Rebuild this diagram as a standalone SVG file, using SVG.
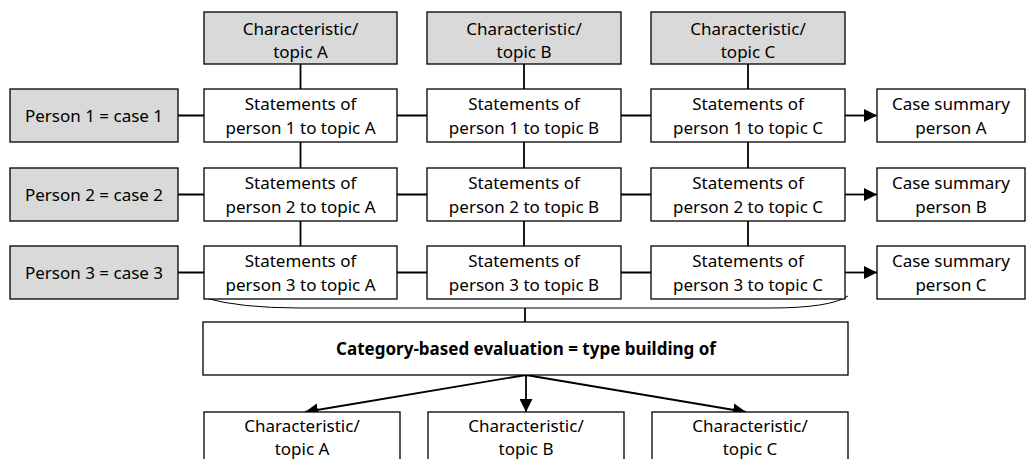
<svg xmlns="http://www.w3.org/2000/svg" width="1027" height="459" viewBox="0 0 1027 459">
  <style>
    .box { fill: #ffffff; stroke: #000000; stroke-width: 1.3; }
    .grey { fill: #d9d9d9; }
    .link { fill: none; stroke: #000000; stroke-width: 1.8; }
    .thin { fill: none; stroke: #000000; stroke-width: 1; }
    text { font-family: "Noto Sans", "Open Sans", sans-serif; font-size: 17px; fill: #000000; text-anchor: middle; }
    .bold { font-weight: bold; }
  </style>
  <defs>
    <marker id="arrowBig" viewBox="0 0 10 10" refX="10" refY="5" markerWidth="13" markerHeight="13" markerUnits="userSpaceOnUse" orient="auto">
      <path d="M0,0 L10,5 L0,10 z" fill="#000000"/>
    </marker>
  </defs>

  <!-- connectors -->
  <g id="connectors">
    <!-- topic columns -->
    <line class="link" x1="300.5" y1="64" x2="300.5" y2="246"/>
    <line class="link" x1="524" y1="64" x2="524" y2="246"/>
    <line class="link" x1="748" y1="64" x2="748" y2="246"/>
    <!-- person rows -->
    <line class="link" x1="178" y1="115.5" x2="651" y2="115.5"/>
    <line class="link" x1="178" y1="194.5" x2="651" y2="194.5"/>
    <line class="link" x1="178" y1="272.5" x2="651" y2="272.5"/>
    <!-- towards case summaries -->
    <line class="link" x1="845" y1="115.5" x2="877" y2="115.5" marker-end="url(#arrowBig)"/>
    <line class="link" x1="845" y1="194.5" x2="877" y2="194.5" marker-end="url(#arrowBig)"/>
    <line class="link" x1="845" y1="272.5" x2="877" y2="272.5" marker-end="url(#arrowBig)"/>
    <!-- bracket under the third row -->
    <path class="thin" d="M205,298 Q240,308 300,308 L770,308 Q830,308 848,296"/>
    <line class="link" x1="525" y1="308" x2="525" y2="322"/>
    <!-- evaluation outputs -->
    <line class="link" x1="526" y1="375" x2="305" y2="412" marker-end="url(#arrowBig)"/>
    <line class="link" x1="526" y1="375" x2="526" y2="412" marker-end="url(#arrowBig)"/>
    <line class="link" x1="526" y1="375" x2="746" y2="412" marker-end="url(#arrowBig)"/>
  </g>

  <!-- topic headers -->
  <g id="topicA">
    <rect class="box grey" x="204" y="12" width="193" height="52"/>
    <text x="300.5" y="35">Characteristic/</text>
    <text x="300.5" y="58">topic A</text>
  </g>
  <g id="topicB">
    <rect class="box grey" x="427" y="12" width="194" height="52"/>
    <text x="524" y="35">Characteristic/</text>
    <text x="524" y="58">topic B</text>
  </g>
  <g id="topicC">
    <rect class="box grey" x="651" y="12" width="194" height="52"/>
    <text x="748" y="35">Characteristic/</text>
    <text x="748" y="58">topic C</text>
  </g>

  <!-- persons -->
  <g id="person1">
    <rect class="box grey" x="10" y="89" width="168" height="53"/>
    <text x="94" y="122">Person 1 = case 1</text>
  </g>
  <g id="person2">
    <rect class="box grey" x="10" y="168" width="168" height="53"/>
    <text x="94" y="201">Person 2 = case 2</text>
  </g>
  <g id="person3">
    <rect class="box grey" x="10" y="246" width="168" height="53"/>
    <text x="94" y="279">Person 3 = case 3</text>
  </g>

  <!-- statements, row 1 -->
  <g id="s1A">
    <rect class="box" x="204" y="89" width="193" height="53"/>
    <text x="300.5" y="110">Statements of</text>
    <text x="300.5" y="134">person 1 to topic A</text>
  </g>
  <g id="s1B">
    <rect class="box" x="427" y="89" width="194" height="53"/>
    <text x="524" y="110">Statements of</text>
    <text x="524" y="134">person 1 to topic B</text>
  </g>
  <g id="s1C">
    <rect class="box" x="651" y="89" width="194" height="53"/>
    <text x="748" y="110">Statements of</text>
    <text x="748" y="134">person 1 to topic C</text>
  </g>

  <!-- statements, row 2 -->
  <g id="s2A">
    <rect class="box" x="204" y="168" width="193" height="53"/>
    <text x="300.5" y="189">Statements of</text>
    <text x="300.5" y="213">person 2 to topic A</text>
  </g>
  <g id="s2B">
    <rect class="box" x="427" y="168" width="194" height="53"/>
    <text x="524" y="189">Statements of</text>
    <text x="524" y="213">person 2 to topic B</text>
  </g>
  <g id="s2C">
    <rect class="box" x="651" y="168" width="194" height="53"/>
    <text x="748" y="189">Statements of</text>
    <text x="748" y="213">person 2 to topic C</text>
  </g>

  <!-- statements, row 3 -->
  <g id="s3A">
    <rect class="box" x="204" y="246" width="193" height="53"/>
    <text x="300.5" y="267">Statements of</text>
    <text x="300.5" y="291">person 3 to topic A</text>
  </g>
  <g id="s3B">
    <rect class="box" x="427" y="246" width="194" height="53"/>
    <text x="524" y="267">Statements of</text>
    <text x="524" y="291">person 3 to topic B</text>
  </g>
  <g id="s3C">
    <rect class="box" x="651" y="246" width="194" height="53"/>
    <text x="748" y="267">Statements of</text>
    <text x="748" y="291">person 3 to topic C</text>
  </g>

  <!-- case summaries -->
  <g id="summaryA">
    <rect class="box" x="877" y="89" width="148" height="53"/>
    <text x="951" y="110">Case summary</text>
    <text x="951" y="134">person A</text>
  </g>
  <g id="summaryB">
    <rect class="box" x="877" y="168" width="148" height="53"/>
    <text x="951" y="189">Case summary</text>
    <text x="951" y="213">person B</text>
  </g>
  <g id="summaryC">
    <rect class="box" x="877" y="246" width="148" height="53"/>
    <text x="951" y="267">Case summary</text>
    <text x="951" y="291">person C</text>
  </g>

  <!-- evaluation -->
  <g id="evaluation">
    <rect class="box" x="203" y="322" width="645" height="53"/>
    <text class="bold" x="526" y="355">Category-based evaluation = type building of</text>
  </g>

  <!-- resulting types -->
  <g id="typeA">
    <rect class="box" x="204" y="412" width="196" height="60"/>
    <text x="302" y="432">Characteristic/</text>
    <text x="302" y="455">topic A</text>
  </g>
  <g id="typeB">
    <rect class="box" x="428" y="412" width="196" height="60"/>
    <text x="526" y="432">Characteristic/</text>
    <text x="526" y="455">topic B</text>
  </g>
  <g id="typeC">
    <rect class="box" x="652" y="412" width="196" height="60"/>
    <text x="750" y="432">Characteristic/</text>
    <text x="750" y="455">topic C</text>
  </g>
</svg>
